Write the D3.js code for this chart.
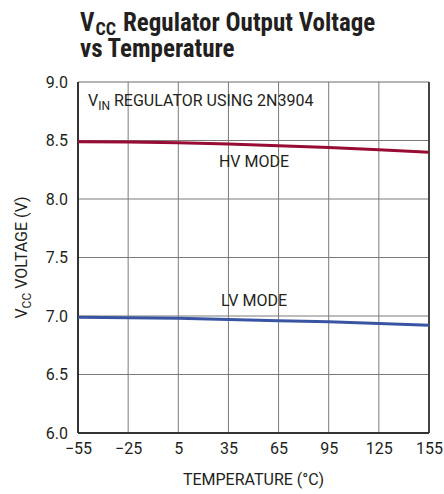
<!DOCTYPE html>
<html><head><meta charset="utf-8">
<script src="https://cdn.jsdelivr.net/npm/d3@7"></script>
<style>
body{margin:0;background:#fff;}
text{font-family:Roboto,"Liberation Sans",sans-serif;fill:#231f20;}
.ttl{font-family:"Liberation Sans Narrow","Roboto Condensed",sans-serif;font-weight:bold;}
</style></head><body>
<script>
const temps = [-55, -25, 5, 35, 65, 95, 125, 155];
const hvMode = [8.49, 8.488, 8.48, 8.47, 8.455, 8.44, 8.42, 8.40];
const lvMode = [6.99, 6.985, 6.98, 6.97, 6.96, 6.95, 6.935, 6.92];
const xTicks = [-55, -25, 5, 35, 65, 95, 125, 155];
const yTicks = [6.0, 6.5, 7.0, 7.5, 8.0, 8.5, 9.0];

const W = 444, H = 494;
const m = {l:78, r:15, t:82, b:61};
const svg = d3.select("body").append("svg").attr("width", W).attr("height", H);
const x = d3.scaleLinear().domain([-55,155]).range([m.l, W-m.r]);
const y = d3.scaleLinear().domain([6,9]).range([H-m.b, m.t]);

// title
const tV = svg.append("text").attr("class","ttl").attr("x", 80).attr("y", 31).style("font-size","25px").text("V");
const vEnd = 80 + tV.node().getComputedTextLength();
const tC = svg.append("text").attr("class","ttl").attr("x", vEnd + 1).attr("y", 35).style("font-size","18px").text("CC");
const cEnd = vEnd + 1 + tC.node().getComputedTextLength();
svg.append("text").attr("class","ttl").attr("x", cEnd + 7).attr("y", 31).style("font-size","25px").text("Regulator Output Voltage");
svg.append("text").attr("class","ttl").attr("x", 80).attr("y", 57).style("font-size","25px").text("vs Temperature");

// grid
const g = svg.append("g");
g.selectAll(".gx").data(xTicks.slice(1,-1)).join("line")
  .attr("x1", d=>x(d)).attr("x2", d=>x(d)).attr("y1", y(9)).attr("y2", y(6))
  .attr("stroke", "#7a7a7a").attr("stroke-width", 1);
g.selectAll(".gy").data(yTicks.slice(1,-1)).join("line")
  .attr("y1", d=>y(d)).attr("y2", d=>y(d)).attr("x1", x(-55)).attr("x2", x(155))
  .attr("stroke", "#7a7a7a").attr("stroke-width", 1);
// frame
svg.append("line").attr("x1", x(-55)).attr("x2", x(155)).attr("y1", y(9)).attr("y2", y(9)).attr("stroke","#6d6d6d").attr("stroke-width",1.2);
svg.append("line").attr("x1", x(155)).attr("x2", x(155)).attr("y1", y(9)).attr("y2", y(6)).attr("stroke","#444").attr("stroke-width",2);
svg.append("line").attr("x1", x(-55)).attr("x2", x(-55)).attr("y1", y(9)).attr("y2", y(6)).attr("stroke","#333").attr("stroke-width",2);
svg.append("line").attr("x1", x(-55)).attr("x2", x(155)).attr("y1", y(6)).attr("y2", y(6)).attr("stroke","#333").attr("stroke-width",2);

// axes labels via d3 axes
const xa = svg.append("g").attr("transform", `translate(0,${y(6)})`)
  .call(d3.axisBottom(x).tickValues(xTicks).tickSize(0).tickPadding(10).tickFormat(d => d<0 ? "\u2212"+Math.abs(d) : d));
xa.select(".domain").remove();
xa.selectAll("text").style("font-size","16px").style("font-family",'Roboto,sans-serif').attr("fill","#231f20");
const ya = svg.append("g").attr("transform", `translate(${x(-55)},0)`)
  .call(d3.axisLeft(y).tickValues(yTicks).tickSize(0).tickPadding(10).tickFormat(d3.format(".1f")));
ya.select(".domain").remove();
ya.selectAll("text").style("font-size","16px").style("font-family",'Roboto,sans-serif').attr("fill","#231f20");

svg.append("text").attr("x", (x(-55)+x(155))/2).attr("y", 485).attr("text-anchor","middle").style("font-size","16px").text("TEMPERATURE (\u00B0C)");
const yl = svg.append("text").attr("transform", `translate(27,${(y(6)+y(9))/2}) rotate(-90)`).attr("text-anchor","middle").style("font-size","16px");
yl.append("tspan").text("V");
yl.append("tspan").text("CC").attr("dy",4).style("font-size","12px");
yl.append("tspan").text(" VOLTAGE (V)").attr("dy",-4);

// lines
const line = d3.line().x((d,i)=>x(temps[i])).y(d=>y(d));
svg.append("path").datum(hvMode).attr("d", line).attr("fill","none").attr("stroke","#980b32").attr("stroke-width",3);
svg.append("path").datum(lvMode).attr("d", line).attr("fill","none").attr("stroke","#3a54a4").attr("stroke-width",3);

// annotations
const a = svg.append("text").attr("x", 88).attr("y", 106).style("font-size","16px");
a.append("tspan").text("V");
a.append("tspan").text("IN").attr("dy",4).style("font-size","12px");
a.append("tspan").text(" REGULATOR USING 2N3904").attr("dy",-4);
svg.append("text").attr("x", 254).attr("y", 167).attr("text-anchor","middle").style("font-size","16px").text("HV MODE");
svg.append("text").attr("x", 254).attr("y", 306).attr("text-anchor","middle").style("font-size","16px").text("LV MODE");
</script>
</body></html>
